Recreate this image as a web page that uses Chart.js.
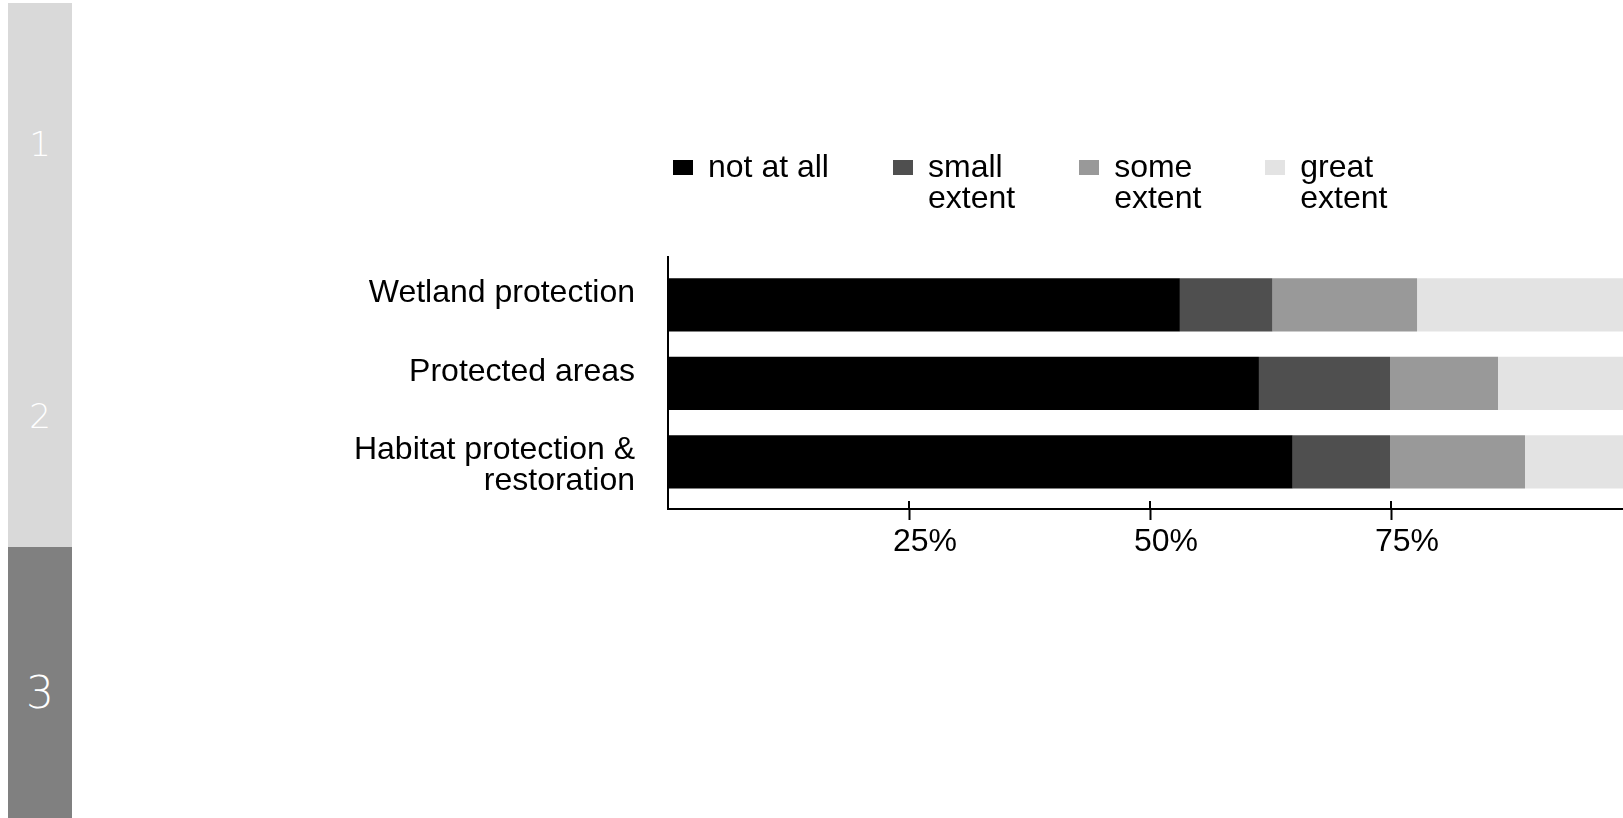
<!DOCTYPE html>
<html>
<head>
<meta charset="utf-8">
<script src="https://cdn.jsdelivr.net/npm/chart.js@4/dist/chart.umd.min.js"></script>
<style>
    html, body {
        margin: 0;
        padding: 0;
        width: 1623px;
        height: 818px;
        overflow: hidden;
        background: #ffffff;
    }

    #extent-chart {
        position: absolute;
        left: 0;
        top: 0;
    }

    .step {
        position: absolute;
        left: 8px;
        width: 64px;
        z-index: 2;
    }

    .step-light {
        top: 3px;
        height: 544px;
        background: #d9d9d9;
    }

    .step-dark {
        top: 547px;
        height: 271px;
        background: #808080;
    }

    .step-number {
        position: absolute;
        left: 8px;
        width: 64px;
        z-index: 3;
        color: #ffffff;
        font-family: 'DejaVu Sans', sans-serif;
        font-weight: 200;
        text-align: center;
        line-height: 1;
        transform: translateY(-50%);
    }

    #extent-legend {
        position: absolute;
        left: 673px;
        top: 151px;
        display: flex;
        gap: 64px;
        font-family: 'Liberation Sans', Arial, sans-serif;
        font-size: 32px;
        line-height: 31px;
        color: #000000;
        z-index: 2;
    }

    .legend-item {
        display: flex;
        align-items: flex-start;
    }

    .legend-box {
        width: 20px;
        height: 15px;
        margin-top: 9px;
        margin-right: 15px;
        flex: none;
    }
</style>
</head>
<body>
<div class="step step-light"></div>
<div class="step step-dark"></div>
<div class="step-number" style="top: 144px; font-size: 34px;">1</div>
<div class="step-number" style="top: 416px; font-size: 34px;">2</div>
<div class="step-number" style="top: 693px; font-size: 44px;">3</div>

<div id="extent-legend"></div>
<canvas id="extent-chart" width="1700" height="818"></canvas>

<script>
const categories = [
    ['Wetland protection', ''],
    ['Protected areas', ''],
    ['Habitat protection &', 'restoration']
];
const series_labels = [['not at all'], ['small', 'extent'], ['some', 'extent'], ['great', 'extent']];
const series_colors = ['#000000', '#4f4f4f', '#999999', '#e3e3e3'];

// share of answers per category, in percent
const not_at_all = [53.1, 61.3, 64.8];
const small_extent = [9.6, 13.6, 10.1];
const some_extent = [15.0, 11.2, 14.0];
const great_extent = [22.3, 13.9, 11.1];

const x_ticks = [25, 50, 75];

const font_family = "'Liberation Sans', Arial, sans-serif";

const extent_chart = document.getElementById('extent-chart');
const extent_legend = document.getElementById('extent-legend');

const to_points = (values) => values.map((value, index) => ({ x: value, y: index }));

// short marks above the x axis line, so the ticks cross it
const tick_stubs = {
    id: 'tick_stubs',
    afterDraw(chart) {
        const { ctx, chartArea, scales } = chart;
        ctx.save();
        ctx.strokeStyle = '#000000';
        ctx.lineWidth = 2;
        scales.x.ticks.forEach((tick, index) => {
            const px = Math.round(scales.x.getPixelForTick(index));
            ctx.beginPath();
            ctx.moveTo(px, chartArea.bottom - 8);
            ctx.lineTo(px, chartArea.bottom);
            ctx.stroke();
        });
        ctx.restore();
    }
};

// legend as html, so the two-line labels keep their own width
const html_legend = {
    id: 'html_legend',
    afterUpdate(chart) {
        extent_legend.innerHTML = '';
        chart.data.datasets.forEach((dataset) => {
            const item = document.createElement('div');
            item.className = 'legend-item';

            const box = document.createElement('span');
            box.className = 'legend-box';
            box.style.background = dataset.backgroundColor;

            const text = document.createElement('span');
            text.innerHTML = dataset.label.join('<br>');

            item.appendChild(box);
            item.appendChild(text);
            extent_legend.appendChild(item);
        });
    }
};

Chart.defaults.color = '#000000';
Chart.defaults.font.family = font_family;

const extent_chart_data = {
    datasets: [not_at_all, small_extent, some_extent, great_extent].map((values, index) => ({
        label: series_labels[index],
        data: to_points(values),
        xAxisID: 'x',
        yAxisID: 'y',
        backgroundColor: series_colors[index],
        borderWidth: 0,
        barPercentage: 0.85,
        categoryPercentage: 0.8
    }))
};

new Chart(extent_chart, {
    type: 'bar',
    data: extent_chart_data,
    plugins: [tick_stubs, html_legend],
    options: {
        indexAxis: 'y',
        responsive: false,
        animation: false,
        layout: {
            padding: { left: 0, top: 257, right: 68, bottom: 0 }
        },
        plugins: {
            tooltip: { enabled: false },
            legend: { display: false }
        },
        scales: {
            x: {
                type: 'linear',
                position: 'bottom',
                stacked: true,
                min: 0,
                max: 100,
                afterBuildTicks: (scale) => {
                    scale.ticks = x_ticks.map((value) => ({ value }));
                },
                afterFit: (scale) => {
                    scale.height = 309;
                },
                grid: {
                    drawOnChartArea: false,
                    tickLength: 11,
                    tickWidth: 2,
                    tickColor: '#000000'
                },
                border: { display: true, width: 2, color: '#000000' },
                ticks: {
                    padding: 3,
                    labelOffset: 16,
                    maxRotation: 0,
                    font: { size: 32, lineHeight: 1.2 },
                    callback: (value) => value + '%'
                }
            },
            y: {
                type: 'linear',
                position: 'left',
                stacked: true,
                reverse: true,
                offset: false,
                min: -0.61,
                max: 2.6,
                afterBuildTicks: (scale) => {
                    scale.ticks = categories.map((_, index) => ({ value: index }));
                },
                afterFit: (scale) => {
                    scale.width = 668;
                },
                grid: {
                    offset: false,
                    drawOnChartArea: false,
                    drawTicks: false
                },
                border: { display: true, width: 2, color: '#000000' },
                ticks: {
                    padding: 33,
                    labelOffset: 4,
                    font: { size: 32, lineHeight: 0.97 },
                    callback: (value) => categories[value]
                }
            }
        }
    }
});
</script>
</body>
</html>
